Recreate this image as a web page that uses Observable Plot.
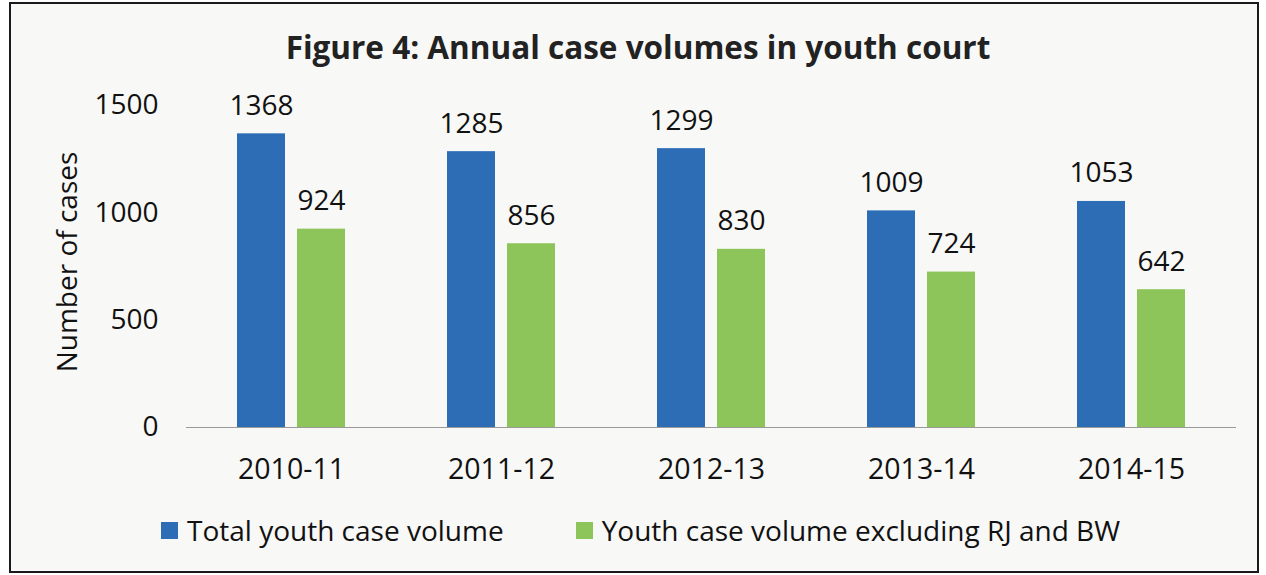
<!DOCTYPE html>
<html>
<head>
<meta charset="utf-8">
<script src="https://cdn.jsdelivr.net/npm/d3@7"></script>
<script src="https://cdn.jsdelivr.net/npm/@observablehq/plot@0.6"></script>
<style>
  html, body { margin: 0; padding: 0; background: #ffffff; }
  body { width: 1266px; height: 575px; position: relative; overflow: hidden; font-family: "Open Sans", sans-serif; color: #111; }
  #frame { position: absolute; left: 9px; top: 2px; width: 1246px; height: 567px; border: 2px solid #1a1a1a; background: #f8f8f7; }
  #title { position: absolute; left: 0; width: 1276px; top: 25px; text-align: center; font-weight: 700; font-size: 31.5px; color: #222; }
  #chart { position: absolute; left: 0; top: 80px; }
  #ylabel { position: absolute; left: 66px; top: 262px; transform: translate(-50%, -50%) rotate(-90deg); white-space: nowrap; font-size: 28px; color: #111; }
  #legend { position: absolute; left: 161px; top: 511px; display: flex; align-items: center; font-size: 28px; color: #111; }
  .item { display: flex; align-items: center; }
  .item + .item { margin-left: 72px; }
  .sw { width: 17px; height: 17px; margin-right: 9px; }
</style>
</head>
<body>
<div id="frame"></div>
<div id="title">Figure 4: Annual case volumes in youth court</div>
<div id="chart"></div>
<div id="ylabel">Number of cases</div>
<div id="legend"></div>
<script>
const years = ["2010-11", "2011-12", "2012-13", "2013-14", "2014-15"];
const totalCases = [1368, 1285, 1299, 1009, 1053];
const excludingCases = [924, 856, 830, 724, 642];
const seriesNames = ["Total youth case volume", "Youth case volume excluding RJ and BW"];
const seriesColors = ["#2c6db5", "#8ec55a"];
const yTicks = [0, 500, 1000, 1500];

const rows = [];
years.forEach((y, i) => {
  rows.push({year: y, series: seriesNames[0], value: totalCases[i]});
  rows.push({year: y, series: seriesNames[1], value: excludingCases[i]});
});

const chart = Plot.plot({
  width: 1266,
  height: 420,
  marginLeft: 186,
  marginRight: 30,
  marginTop: 25,
  marginBottom: 73,
  style: {background: "transparent", fontFamily: "Open Sans, sans-serif", fontSize: "28px", color: "#111"},
  fx: {domain: years, padding: 0, label: null},
  x: {domain: seriesNames, paddingInner: 0.2, paddingOuter: 0.85, axis: null},
  y: {domain: [0, 1500]},
  color: {domain: seriesNames, range: seriesColors},
  marks: [
    Plot.axisFx({anchor: "bottom", tickSize: 0, tickPadding: 31, label: null, fontSize: 28.5}),
    Plot.axisY({ticks: yTicks, tickFormat: d => String(d), tickSize: 0, tickPadding: 28, fontSize: 28, label: null}),
    Plot.ruleY([0], {stroke: "#9a9a9a", strokeWidth: 1}),
    Plot.barY(rows, {fx: "year", x: "series", y: "value", fill: "series"}),
    Plot.text(rows, {fx: "year", x: "series", y: "value", text: d => String(d.value), lineAnchor: "bottom", dy: -19, fontSize: 28, fill: "#111"})
  ]
});
document.getElementById("chart").appendChild(chart);

const legend = document.getElementById("legend");
seriesNames.forEach((name, i) => {
  const item = document.createElement("div");
  item.className = "item";
  const sw = document.createElement("div");
  sw.className = "sw";
  sw.style.background = seriesColors[i];
  const label = document.createElement("span");
  label.textContent = name;
  item.appendChild(sw);
  item.appendChild(label);
  legend.appendChild(item);
});
</script>
</body>
</html>
